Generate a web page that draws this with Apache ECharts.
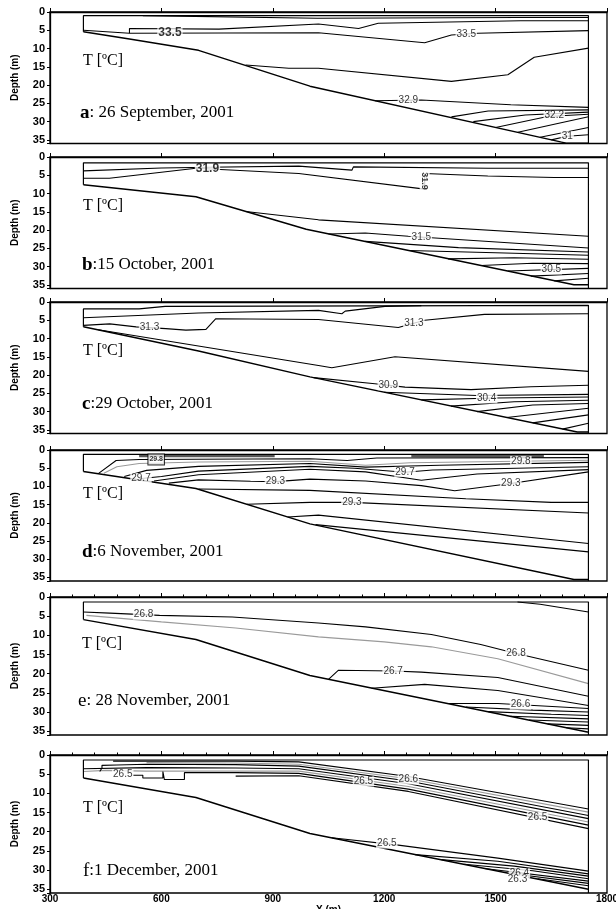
<!DOCTYPE html>
<html><head><meta charset="utf-8">
<script src="https://cdn.jsdelivr.net/npm/echarts@6/dist/echarts.min.js"></script>
<style>html,body{margin:0;padding:0;background:#fff}#c{width:616px;height:909px}</style>
</head><body><div id="c"></div>
<script>
// ---------- axis values ----------
const xTicks = [300, 600, 900, 1200, 1500, 1800];
const depthTicks = [0, 5, 10, 15, 20, 25, 30, 35];
const depthMax = 36;
const panelTitles = [['a', ': 26 September, 2001'], ['b', ':15 October, 2001'], ['c', ':29 October, 2001'],
                     ['d', ':6 November, 2001'], ['e', ': 28 November, 2001'], ['f', ':1 December, 2001']];
const unitLabel = 'T [ºC]';
const xName = 'X (m)';
const yName = 'Depth (m)';

// ---------- panel a : 26 September ----------
const aBottom = [[390,5.4],[514,7.4],[700,10.5],[1000,20.3],[1690,35.9],[1750,35.9]];
const aBox = [[390,5.4],[390,1.0],[1750,1.0],[1750,36]];
const aLines = [
  [[550,1.0],[550,1.5],[1020,1.7],[1560,1.5],[1750,1.5]],
  [[390,5.0],[514,5.8],[514,4.5],[755,4.7],[1023,3.3],[1131,4.5],[1184,3.1],[1568,2.4],[1750,2.4]],
  [[514,5.8],[1023,5.7],[1309,8.4],[1381,6.3],[1452,5.8],[1750,5.1]],
  [[827,14.5],[943,15.4],[1023,15.4],[1381,19.0],[1533,17.2],[1604,12.4],[1750,9.9]],
  [[1175,24.3],[1300,24.1],[1541,25.4],[1750,26.1]],
  [[1381,28.7],[1480,27.1],[1750,26.8]],
  [[1440,30.0],[1580,28.2],[1750,27.4]],
  [[1500,31.6],[1640,28.6],[1750,28.0]],
  [[1560,32.9],[1750,28.7]],
  [[1620,34.3],[1750,31.6]],
  [[1650,35.0],[1693,34.0],[1750,33.6]]
];
const aLabels = [['33.5',623,5.8],['33.5',1421,6.0],['32.9',1265,24.1],['32.2',1658,28.4],['31',1693,34.0]];

// ---------- panel b : 15 October ----------
const bBottom = [[390,7.6],[693,10.9],[990,19.8],[1711,35.0],[1750,35.0]];
const bBox = [[390,7.6],[390,1.6],[1750,1.6],[1750,36]];
const bLines = [
  [[390,3.8],[600,3.0],[724,2.8],[970,2.5],[1113,3.6],[1117,2.7],[1480,3.1],[1750,3.1]],
  [[390,5.8],[460,5.8],[693,3.1],[970,4.5],[1309,8.8],[1309,4.5],[1479,5.2],[1658,5.6],[1750,5.6]],
  [[827,14.9],[1023,17.2],[1750,21.7]],
  [[1050,21.1],[1149,20.8],[1265,21.7],[1750,24.9]],
  [[1149,23.1],[1400,24.8],[1750,26.0]],
  [[1265,25.6],[1500,26.2],[1750,26.9]],
  [[1372,27.9],[1550,27.6],[1750,28.0]],
  [[1461,29.7],[1600,29.1],[1750,29.2]],
  [[1533,31.2],[1750,30.5]],
  [[1595,32.6],[1750,31.9]],
  [[1658,33.9],[1750,33.2]]
];
const bLabels = [['31.9',724,3.3],['31.9',1309,6.6],['31.5',1300,21.9],['30.5',1650,30.8]];

// ---------- panel c : 29 October ----------
const cBottom = [[390,6.8],[700,13.4],[1000,20.5],[1720,35.6],[1750,35.6]];
const cBox = [[390,6.8],[390,1.9],[540,1.9],[610,1.2],[1750,0.9],[1750,36]];
const cLines = [
  [[390,4.3],[700,3.0],[1023,2.3],[1086,3.2],[1095,2.5],[1202,1.2],[1300,1.0]],
  [[390,6.4],[461,6.0],[532,6.8],[612,7.3],[666,7.7],[720,7.5],[746,4.6],[1023,4.8],[1238,7.0],[1309,5.0],[1470,3.4],[1750,3.2]],
  [[430,7.6],[1023,17.4],[1059,18.0],[1229,15.0],[1750,19.0]],
  [[1010,20.7],[1175,22.4],[1256,23.3],[1434,24.0],[1595,23.2],[1750,22.8]],
  [[1200,24.7],[1450,25.6],[1750,25.3]],
  [[1300,26.8],[1500,26.3],[1750,26.0]],
  [[1380,28.5],[1550,27.3],[1750,26.9]],
  [[1450,30.0],[1600,28.2],[1750,27.8]],
  [[1530,31.6],[1750,29.1]],
  [[1600,33.1],[1750,30.9]],
  [[1680,34.8],[1750,33.2]]
];
const cLabels = [['31.3',568,7.0],['31.3',1280,5.9],['30.9',1211,22.8],['30.4',1476,26.4]];

// ---------- panel d : 6 November ----------
const dBottom = [[390,5.9],[693,10.6],[1000,20.3],[1711,35.6],[1750,35.6]];
const dBox = [[390,5.9],[390,1.2],[1750,1.2],[1750,36]];
const dBand = [[[540,1.6],[905,1.6]],[[1273,1.6],[1630,1.6]]];
const dGray = [[[445,6.4],[480,4.6],[540,3.7],[700,3.3],[1000,3.1],[1150,4.2],[1270,3.5],[1750,2.8]]];
const dLines = [
  [[430,6.5],[478,2.9],[540,2.6],[1000,2.4],[1100,2.9],[1180,2.2],[1750,2.1]],
  [[500,7.3],[560,5.6],[700,4.5],[1000,3.7],[1150,4.7],[1350,4.2],[1750,3.4]],
  [[540,7.9],[600,7.3],[700,5.8],[1000,4.5],[1120,5.0],[1256,6.1],[1330,5.5],[1750,4.6]],
  [[580,8.5],[700,6.8],[1000,5.3],[1150,6.0],[1300,8.3],[1450,6.6],[1750,5.4]],
  [[620,9.1],[700,8.2],[840,8.6],[907,8.7],[1000,8.0],[1150,8.5],[1300,9.8],[1390,11.2],[1541,9.2],[1750,6.0]],
  [[700,10.7],[1000,11.1],[1420,13.4],[1650,14.4],[1750,14.4]],
  [[830,14.9],[1000,14.4],[1113,14.4],[1750,17.3]],
  [[940,18.4],[1023,17.9],[1750,25.7]],
  [[1015,20.5],[1750,28.0]]
];
const dLabels = [['29.8',586,2.6],['29.7',545,7.7],['29.3',907,8.7],['29.7',1256,6.0],['29.8',1568,3.0],['29.3',1541,9.2],['29.3',1113,14.4]];

// ---------- panel e : 28 November ----------
const eBottom = [[390,5.9],[693,11.1],[1000,20.5],[1747,35.2],[1750,35.2]];
const eBox = [[390,5.9],[390,1.3],[1750,1.3],[1750,36]];
const eGray = [[[398,4.8],[600,6.5],[800,8.1],[1023,10.4],[1200,11.7],[1327,13.0],[1506,16.1],[1750,22.6]]];
const eLines = [
  [[1559,1.3],[1620,1.9],[1750,3.9]],
  [[390,3.9],[461,4.2],[595,4.8],[791,5.2],[1023,6.8],[1150,7.8],[1327,9.8],[1460,12.4],[1550,14.6],[1750,19.1]],
  [[1050,21.5],[1077,19.1],[1225,19.3],[1300,19.6],[1506,21.0],[1750,25.9]],
  [[1166,23.8],[1309,22.8],[1506,24.4],[1750,28.3]],
  [[1372,27.8],[1506,27.8],[1750,29.1]],
  [[1420,28.7],[1600,29.5],[1750,30.0]],
  [[1480,29.9],[1650,30.6],[1750,30.9]],
  [[1540,31.1],[1750,31.8]],
  [[1590,32.1],[1750,32.6]],
  [[1640,33.1],[1750,33.5]],
  [[1690,34.1],[1750,34.4]]
];
const eLabels = [['26.8',552,4.6],['26.8',1555,14.7],['26.7',1224,19.3],['26.6',1567,28.1]];

// ---------- panel f : 1 December ----------
const fBottom = [[390,6.0],[693,11.1],[1000,20.5],[1750,35.0]];
const fBox = [[390,6.0],[390,1.3],[1750,1.3],[1750,36]];
const fGray = [
  [[560,2.0],[800,2.1],[970,2.4],[1265,6.2],[1750,14.9]],
  [[390,4.3],[450,4.0],[560,4.2],[800,4.2],[970,4.2],[1265,8.2],[1750,17.5]]
];
const fLines = [
  [[470,1.6],[800,1.6],[970,1.8],[1265,5.6],[1750,14.1]],
  [[434,4.3],[440,3.4],[440,2.7],[480,2.6],[560,2.4],[800,2.5],[970,2.9],[1265,6.8],[1750,15.8]],
  [[390,3.6],[560,3.3],[800,3.4],[970,3.6],[1265,7.5],[1750,16.6]],
  [[523,5.3],[550,5.3],[550,6.0],[604,6.0],[604,4.3],[608,4.3],[608,6.4],[662,6.4],[662,4.6],[800,4.6],[970,4.8],[1265,8.9],[1750,18.3]],
  [[800,5.5],[970,5.4],[1265,9.5],[1750,19.2]],
  [[1059,21.6],[1238,23.5],[1506,26.9],[1750,30.3]],
  [[1283,26.0],[1506,27.7],[1750,31.0]],
  [[1354,27.3],[1550,29.0],[1750,31.6]],
  [[1416,28.5],[1600,30.2],[1750,32.3]],
  [[1470,29.6],[1750,32.9]],
  [[1541,30.9],[1750,33.5]],
  [[1613,32.3],[1750,34.1]]
];
const fLabels = [['26.5',496,5.1],['26.5',1144,6.9],['26.6',1265,6.4],['26.5',1613,16.2],['26.5',1207,23.1],['26.4',1564,30.9],['26.3',1559,32.4]];

// ---------- layout (positions / styles) ----------
const layout = [
  {top:12,  height:131.5, title:[80,113], unit:[83,60.5]},
  {top:157, height:131.5, title:[82,265], unit:[83,206]},
  {top:302, height:131.5, title:[82,404], unit:[83,351]},
  {top:450, height:131,   title:[82,552], unit:[83,494]},
  {top:597, height:138,   title:[78,701], unit:[82,644]},
  {top:755, height:138,   title:[83,871], unit:[83,808]}
];
const panelData = [
  {bottom:aBottom, box:aBox, lines:aLines, gray:[], band:[], labels:aLabels},
  {bottom:bBottom, box:bBox, lines:bLines, gray:[], band:[], labels:bLabels},
  {bottom:cBottom, box:cBox, lines:cLines, gray:[], band:[], labels:cLabels},
  {bottom:dBottom, box:dBox, lines:dLines, gray:dGray, band:dBand, labels:dLabels},
  {bottom:eBottom, box:eBox, lines:eLines, gray:eGray, band:[], labels:eLabels},
  {bottom:fBottom, box:fBox, lines:fLines, gray:fGray, band:[], labels:fLabels}
];
const specialLabel = {'0-0':'big', '1-0':'big', '1-1':'rot', '3-0':'box'};
const NARROW = '"Liberation Sans Narrow", "Arial Narrow", "Liberation Sans", Arial, sans-serif';
const SERIF = '"Liberation Serif", "Times New Roman", serif';

const grids = [], xAxes = [], yAxes = [], series = [], graphics = [];
layout.forEach((L, i) => {
  grids.push({left:50, width:557, top:L.top, height:L.height, containLabel:false, outerBoundsMode:'none',
    show:true, borderColor:'#000', borderWidth:1.3, backgroundColor:'rgba(0,0,0,0)'});
  xAxes.push({
    gridIndex:i, type:'value', min:xTicks[0], max:xTicks[xTicks.length-1], interval:xTicks[1]-xTicks[0],
    axisLine:{show:true, lineStyle:{color:'#000', width:1.3}},
    axisTick:{show:true, inside:true, length:4, lineStyle:{color:'#000'}},
    minorTick:{show:i>=4, splitNumber:5, length:2.5, lineStyle:{color:'#000'}},
    axisLabel:{show:i===5, formatter:v => String(v), margin:1, fontSize:10, fontWeight:'bold', color:'#000', fontFamily:NARROW},
    splitLine:{show:false}, minorSplitLine:{show:false},
    name:i===5?xName:'', nameLocation:'middle', nameGap:3,
    nameTextStyle:{fontSize:10, fontWeight:'bold', color:'#000', fontFamily:NARROW, verticalAlign:'top'}
  });
  yAxes.push({
    gridIndex:i, type:'value', inverse:true, min:0, max:depthMax, interval:5,
    axisLine:{show:true, lineStyle:{color:'#000', width:1.3}},
    axisTick:{show:true, inside:false, length:3, lineStyle:{color:'#000'}},
    axisLabel:{formatter:v => depthTicks.includes(v) ? String(v) : '', margin:5, fontSize:11, fontWeight:'bold', color:'#000', fontFamily:NARROW},
    splitLine:{show:false},
    name:yName, nameLocation:'middle', nameGap:30,
    nameTextStyle:{fontSize:10, fontWeight:'bold', color:'#000', fontFamily:NARROW}
  });
  const P = panelData[i];
  const addLine = (data, color, width, z) => series.push({
    type:'line', xAxisIndex:i, yAxisIndex:i, data:data, symbol:'none', silent:true, z:z,
    lineStyle:{color:color, width:width}, clip:true
  });
  P.band.forEach(d => addLine(d, '#555', 3, 2));
  P.gray.forEach(d => addLine(d, '#9a9a9a', 1.1, 2));
  P.lines.forEach(d => addLine(d, '#000', 1.1, 3));
  addLine(P.box, '#000', 1.2, 3);
  addLine(P.bottom, '#000', 1.5, 3);
  series.push({
    type:'scatter', xAxisIndex:i, yAxisIndex:i, symbolSize:0, silent:true, z:10,
    data:P.labels.map((l, k) => {
      const s = specialLabel[i + '-' + k];
      const lab = {};
      if (s === 'big') Object.assign(lab, {fontSize:12, fontWeight:'bold', fontFamily:'"Liberation Sans", Arial, sans-serif'});
      if (s === 'rot') Object.assign(lab, {rotate:-90, fontSize:9, fontWeight:'bold'});
      if (s === 'box') Object.assign(lab, {fontSize:7, fontWeight:'bold', borderColor:'#000', borderWidth:1, padding:[0,1]});
      return {name:l[0], value:[l[1], l[2]], label:lab};
    }),
    label:{show:true, position:'inside', formatter:p => p.name, color:'#000', fontSize:10, fontFamily:NARROW,
           backgroundColor:'#fff', padding:[0,1], lineHeight:10}
  });
  const t = panelTitles[i];
  graphics.push({type:'text', x:L.unit[0], y:L.unit[1], z:20,
    style:{text:unitLabel, fontFamily:SERIF, fontSize:16, fill:'#000', verticalAlign:'middle'}});
  graphics.push({type:'text', x:L.title[0], y:L.title[1], z:20,
    style:{text:'{l|' + t[0] + '}{n|' + t[1] + '}', fill:'#000', verticalAlign:'middle',
      rich:{l:{fontFamily:SERIF, fontSize:19, fontWeight:i < 4 ? 'bold' : 'normal', fill:'#000'},
            n:{fontFamily:SERIF, fontSize:17, fill:'#000'}}}});
});

const chart = echarts.init(document.getElementById('c'), null, {renderer:'canvas'});
chart.setOption({animation:false, backgroundColor:'#fff', grid:grids, xAxis:xAxes, yAxis:yAxes, series:series, graphic:graphics});
</script></body></html>
